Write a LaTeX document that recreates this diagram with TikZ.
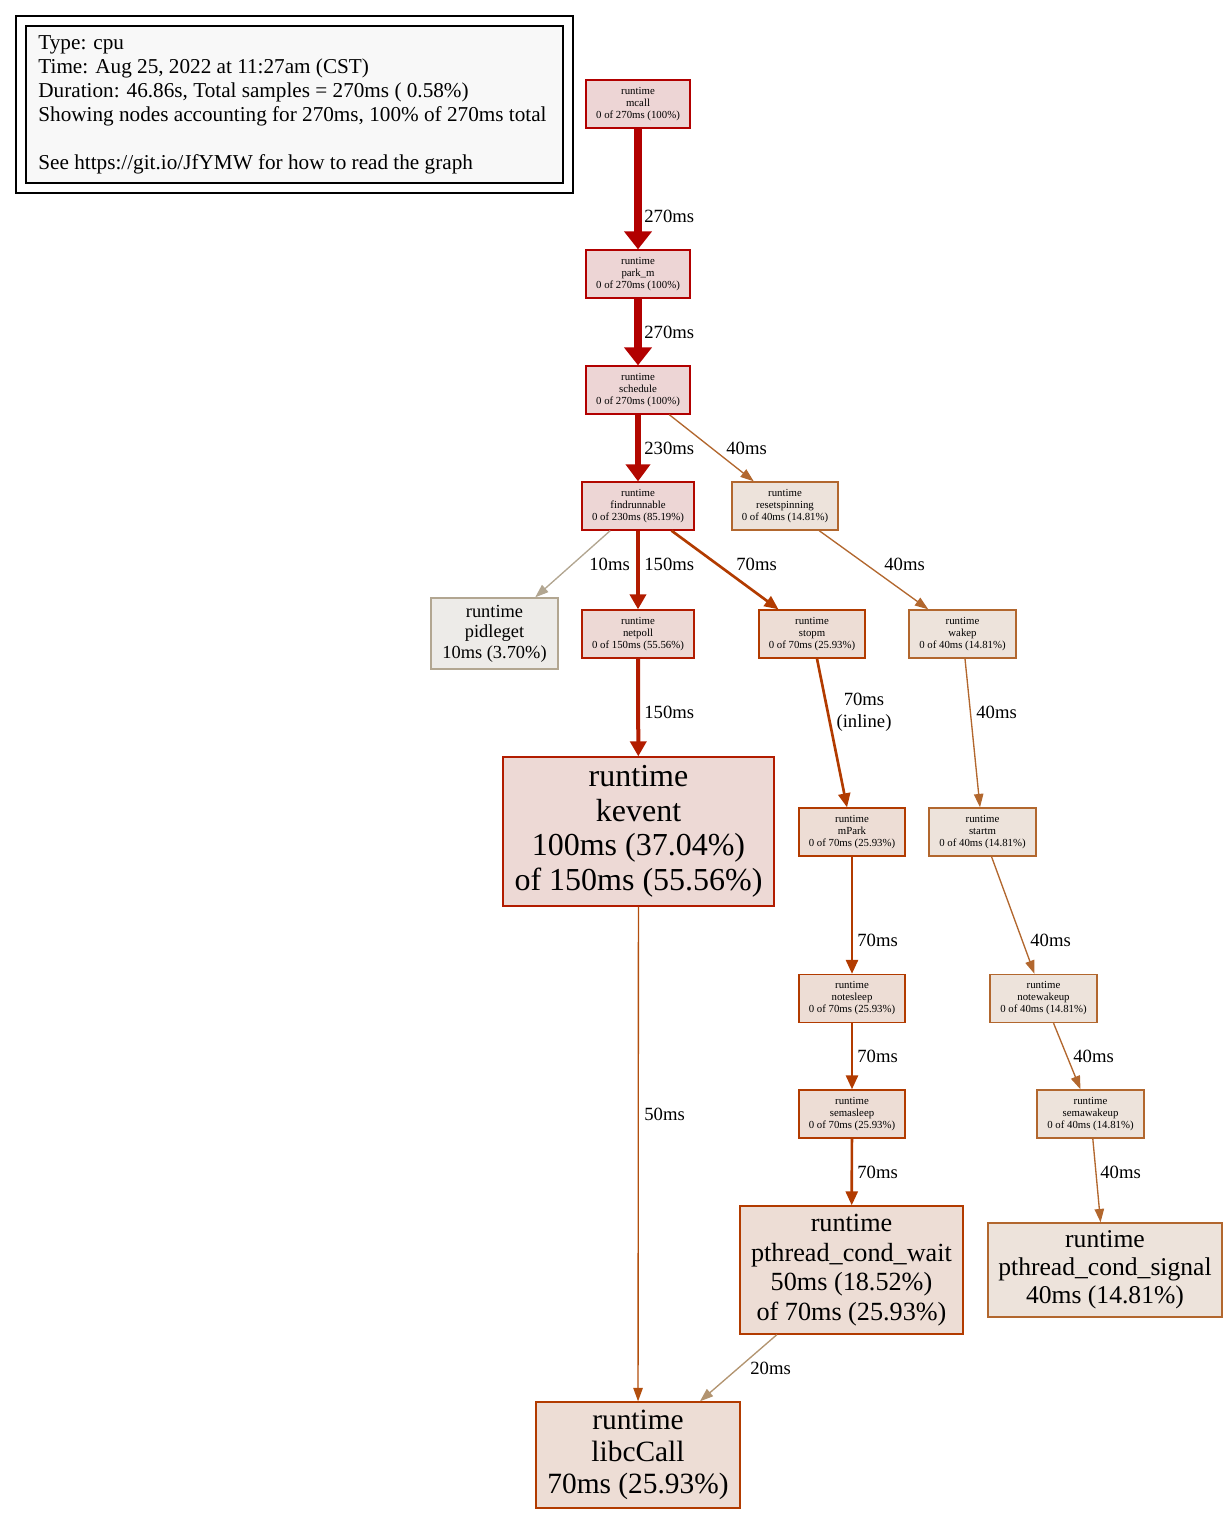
\documentclass[tikz,border=0pt]{standalone}
\usepackage{fontspec}
\setmainfont{Liberation Serif}
\usetikzlibrary{arrows.meta}

% node colours (border / fill) by share of samples
\definecolor{fgA}{HTML}{B20000}\definecolor{bgA}{HTML}{EDD5D5}
\definecolor{fgB}{HTML}{B20800}\definecolor{bgB}{HTML}{EDD6D5}
\definecolor{fgC}{HTML}{B21C00}\definecolor{bgC}{HTML}{EDD9D5}
\definecolor{fgD}{HTML}{B23B00}\definecolor{bgD}{HTML}{EDDDD5}
\definecolor{fgE}{HTML}{B2672E}\definecolor{bgE}{HTML}{EDE3DB}
\definecolor{fgF}{HTML}{B2A691}\definecolor{bgF}{HTML}{EDEBE8}
\definecolor{fgG}{HTML}{B24E0D}
\definecolor{fgH}{HTML}{B29470}
\definecolor{legfill}{HTML}{F8F8F8}

\tikzset{
  pn/.style={draw, line width=0.67pt, inner sep=0pt, align=center},
  tiny/.style={pn, minimum height=24pt, font=\fontsize{5.4}{6}\selectfont},
  lbl/.style={anchor=west, inner sep=0pt, font=\fontsize{9.33}{11}\selectfont},
  wsix/.style={line width=4pt, -{Triangle[length=9pt,width=13.5pt]}},
  wfive/.style={line width=3.3pt, -{Triangle[length=8.5pt,width=12pt]}},
  wthree/.style={line width=2pt, -{Triangle[length=7.5pt,width=8pt]}},
  wtwo/.style={line width=1.33pt, -{Triangle[length=7pt,width=6pt]}},
  wone/.style={line width=0.67pt, -{Triangle[length=6.7pt,width=4.7pt]}}
}

\begin{document}
\begin{tikzpicture}[x=0.5pt, y=-0.5pt]
  \useasboundingbox (0,0) rectangle (1228,1515);

  % legend
  \draw[line width=0.67pt] (16,16) rectangle (573,193);
  \draw[line width=0.67pt, fill=legfill] (26,26) rectangle (563,183);
  \node[anchor=west, inner sep=0pt, align=left,
        font=\fontsize{10.6}{12}\selectfont] (legend) at (38,104.5)
    {Type: cpu\\Time: Aug 25, 2022 at 11:27am (CST)\\Duration: 46.86s, Total samples = 270ms ( 0.58\%)\\Showing nodes accounting for 270ms, 100\% of 270ms total\\[12pt]See https://git.io/JfYMW for how to read the graph};

  % small nodes
  \node[tiny, draw=fgA, fill=bgA, minimum width=52pt] (mcall) at (638,104) {runtime\\mcall\\0 of 270ms (100\%)};
  \node[tiny, draw=fgA, fill=bgA, minimum width=52pt] (parkm) at (638,274) {runtime\\park\_m\\0 of 270ms (100\%)};
  \node[tiny, draw=fgA, fill=bgA, minimum width=52pt] (schedule) at (638,390) {runtime\\schedule\\0 of 270ms (100\%)};
  \node[tiny, draw=fgB, fill=bgB, minimum width=56pt] (findrun) at (638,506) {runtime\\findrunnable\\0 of 230ms (85.19\%)};
  \node[tiny, draw=fgE, fill=bgE, minimum width=53pt] (resetspin) at (785,506) {runtime\\resetspinning\\0 of 40ms (14.81\%)};
  \node[tiny, draw=fgC, fill=bgC, minimum width=56pt] (netpoll) at (638,634) {runtime\\netpoll\\0 of 150ms (55.56\%)};
  \node[tiny, draw=fgD, fill=bgD, minimum width=53pt] (stopm) at (812,634) {runtime\\stopm\\0 of 70ms (25.93\%)};
  \node[tiny, draw=fgE, fill=bgE, minimum width=53.5pt] (wakep) at (962.5,634) {runtime\\wakep\\0 of 40ms (14.81\%)};
  \node[tiny, draw=fgD, fill=bgD, minimum width=53pt] (mpark) at (852,832) {runtime\\mPark\\0 of 70ms (25.93\%)};
  \node[tiny, draw=fgE, fill=bgE, minimum width=53.5pt] (startm) at (982.5,832) {runtime\\startm\\0 of 40ms (14.81\%)};
  \node[tiny, draw=fgD, fill=bgD, minimum width=53pt] (notesleep) at (852,998.5) {runtime\\notesleep\\0 of 70ms (25.93\%)};
  \node[tiny, draw=fgE, fill=bgE, minimum width=53.5pt] (notewake) at (1043.5,998.5) {runtime\\notewakeup\\0 of 40ms (14.81\%)};
  \node[tiny, draw=fgD, fill=bgD, minimum width=53pt] (semasleep) at (852,1114) {runtime\\semasleep\\0 of 70ms (25.93\%)};
  \node[tiny, draw=fgE, fill=bgE, minimum width=53.5pt] (semawake) at (1090.5,1114) {runtime\\semawakeup\\0 of 40ms (14.81\%)};

  % nodes with own time
  \node[pn, draw=fgF, fill=bgF, minimum width=63.5pt, minimum height=35.5pt,
        font=\fontsize{9.2}{10.25}\selectfont] (pidleget) at (494.5,633.5) {runtime\\pidleget\\10ms (3.70\%)};
  \node[pn, draw=fgC, fill=bgC, minimum width=135.5pt, minimum height=74.5pt,
        font=\fontsize{16}{17.3}\selectfont] (kevent) at (638.5,831.5) {runtime\\kevent\\100ms (37.04\%)\\of 150ms (55.56\%)};
  \node[pn, draw=fgD, fill=bgD, minimum width=111.5pt, minimum height=64pt,
        font=\fontsize{13.1}{14.7}\selectfont] (condwait) at (851.5,1270) {runtime\\pthread\_cond\_wait\\50ms (18.52\%)\\of 70ms (25.93\%)};
  \node[pn, draw=fgE, fill=bgE, minimum width=117pt, minimum height=47pt,
        font=\fontsize{12.8}{14}\selectfont] (condsig) at (1105,1270) {runtime\\pthread\_cond\_signal\\40ms (14.81\%)};
  \node[pn, draw=fgD, fill=bgD, minimum width=102pt, minimum height=53pt,
        font=\fontsize{14.7}{16}\selectfont] (libccall) at (638,1455) {runtime\\libcCall\\70ms (25.93\%)};

  % edges
  \draw[wsix, color=fgA] (mcall) -- (parkm);
  \draw[wsix, color=fgA] (parkm) -- (schedule);
  \draw[wfive, color=fgB] (schedule) -- (findrun);
  \draw[wone, color=fgE] (schedule) -- (resetspin);
  \draw[wone, color=fgF] (findrun) -- (pidleget);
  \draw[wthree, color=fgC] (findrun) -- (netpoll);
  \draw[wtwo, color=fgD] (findrun) -- (stopm);
  \draw[wone, color=fgE] (resetspin) -- (wakep);
  \draw[wthree, color=fgC] (netpoll) -- (kevent);
  \draw[wtwo, color=fgD] (stopm) -- (mpark);
  \draw[wone, color=fgE] (wakep) -- (startm);
  \draw[wone, color=fgG] (kevent) -- (libccall);
  \draw[wtwo, color=fgD] (mpark) -- (notesleep);
  \draw[wone, color=fgE] (startm) -- (notewake);
  \draw[wtwo, color=fgD] (notesleep) -- (semasleep);
  \draw[wone, color=fgE] (notewake) -- (semawake);
  \draw[wtwo, color=fgD] (semasleep) -- (condwait);
  \draw[wone, color=fgE] (semawake) -- (condsig);
  \draw[wone, color=fgH] (condwait) -- (libccall);

  % edge labels
  \node[lbl] (l270a) at (644,216) {270ms};
  \node[lbl] (l270b) at (644,332) {270ms};
  \node[lbl] (l230) at (644,448) {230ms};
  \node[lbl] (l40a) at (726,448) {40ms};
  \node[lbl] (l10) at (589,564) {10ms};
  \node[lbl] (l150a) at (644,564) {150ms};
  \node[lbl] (l70a) at (736,564) {70ms};
  \node[lbl] (l40b) at (884,564) {40ms};
  \node[lbl] (l150b) at (644,712) {150ms};
  \node[lbl, anchor=center, align=center] (linline) at (864,712) {70ms\\(inline)};
  \node[lbl] (l40c) at (976,712) {40ms};
  \node[lbl] (l50) at (644,1114) {50ms};
  \node[lbl] (l70b) at (857,940) {70ms};
  \node[lbl] (l40d) at (1030,940) {40ms};
  \node[lbl] (l70c) at (857,1056) {70ms};
  \node[lbl] (l40e) at (1073,1056) {40ms};
  \node[lbl] (l70d) at (857,1172) {70ms};
  \node[lbl] (l40f) at (1100,1172) {40ms};
  \node[lbl] (l20) at (750,1368) {20ms};
\end{tikzpicture}
\end{document}
